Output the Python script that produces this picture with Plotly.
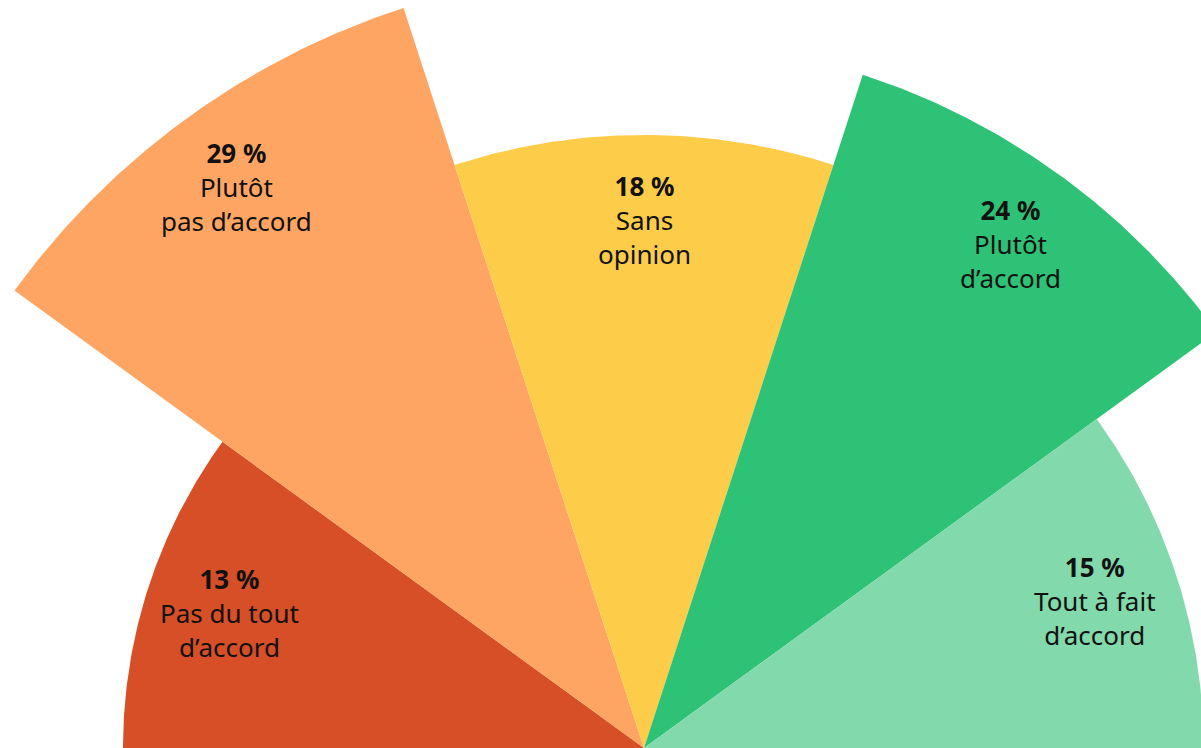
import numpy as np
import plotly.graph_objects as go

categories = ["Pas du tout<br>d’accord", "Plutôt<br>pas d’accord", "Sans<br>opinion",
              "Plutôt<br>d’accord", "Tout à fait<br>d’accord"]
values = [13, 29, 18, 24, 15]
pct_labels = ["13 %", "29 %", "18 %", "24 %", "15 %"]
colors = ["#D64F26", "#FFA563", "#FDCC48", "#2DC275", "#82D9AC"]

W, H = 1201, 748
cx_px = 644          # pixel x of the wedges' common centre
k = 144.5            # pixels per sqrt(percent) unit
label_inset = 85 / k # labels sit this far inside each wedge's outer edge

n = len(values)
step = 180.0 / n
fig = go.Figure()
annotations = []
for i, (v, cat, pl, col) in enumerate(zip(values, categories, pct_labels, colors)):
    r = np.sqrt(v)  # area-proportional radius
    a0 = 180 - step * i
    a1 = 180 - step * (i + 1)
    th = np.radians(np.linspace(a0, a1, 120))
    xs = np.concatenate([[0], r * np.cos(th), [0]])
    ys = np.concatenate([[0], r * np.sin(th), [0]])
    fig.add_trace(go.Scatter(x=xs, y=ys, fill="toself", fillcolor=col, mode="lines",
                             line=dict(width=0, color=col), hoverinfo="skip",
                             showlegend=False))
    am = np.radians((a0 + a1) / 2)
    rl = r - label_inset
    annotations.append(dict(x=rl * np.cos(am), y=rl * np.sin(am), xref="x", yref="y",
                            text=f"<b>{pl}</b><br>{cat}", showarrow=False,
                            font=dict(family="Noto Sans", size=26, color="#111111"),
                            align="center", xanchor="center", yanchor="middle"))

fig.update_layout(
    width=W, height=H,
    margin=dict(l=0, r=0, t=0, b=0),
    paper_bgcolor="white", plot_bgcolor="white",
    xaxis=dict(range=[-cx_px / k, (W - cx_px) / k], visible=False, fixedrange=True),
    yaxis=dict(range=[0, H / k], visible=False, fixedrange=True),
    annotations=annotations,
)
fig.write_html("out.html")
